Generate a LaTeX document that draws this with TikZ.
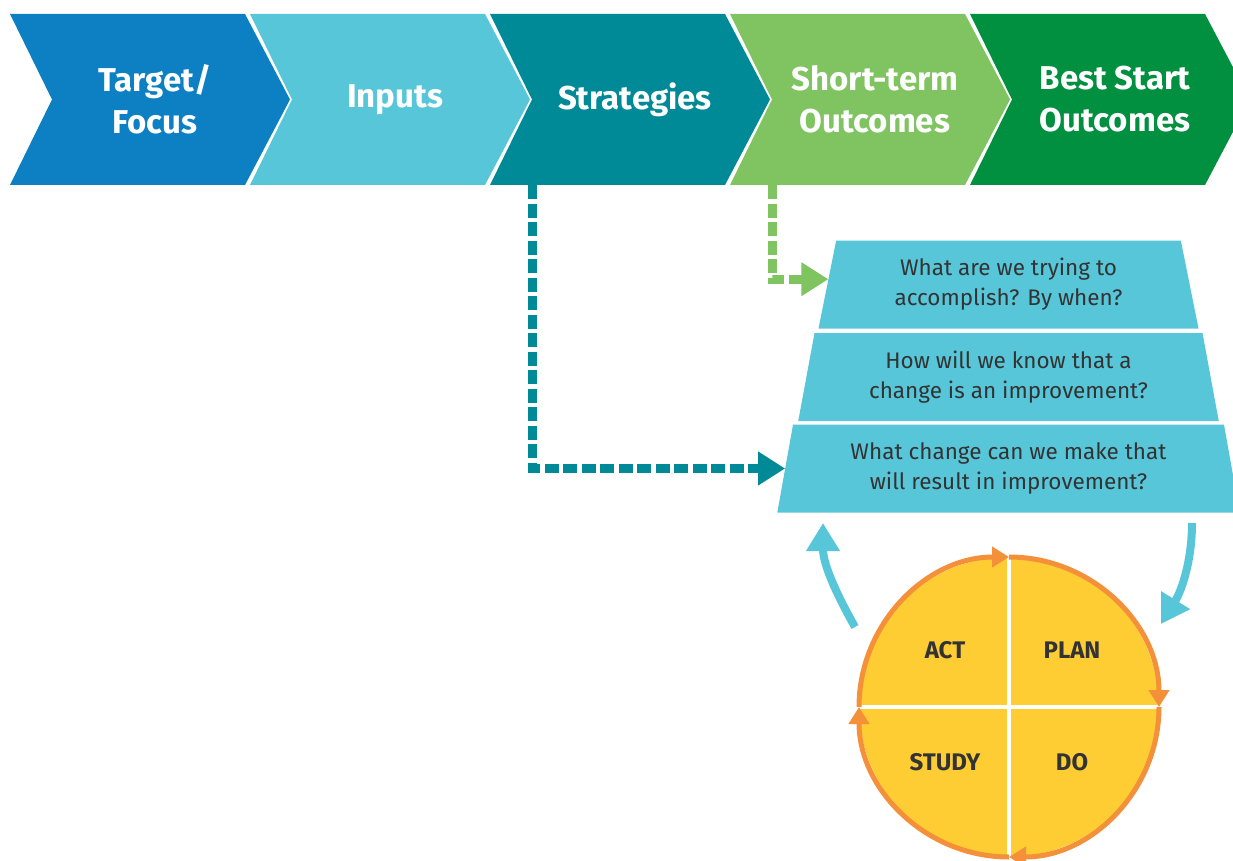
\documentclass[tikz,border=0pt]{standalone}
\usepackage{fontspec}
\setmainfont{Fira Sans}
\usetikzlibrary{arrows.meta,shapes.geometric,calc}

\definecolor{focusblue}{HTML}{0D80C4}
\definecolor{inputblue}{HTML}{57C6D9}
\definecolor{stratteal}{HTML}{008A97}
\definecolor{shortgreen}{HTML}{7FC461}
\definecolor{bestgreen}{HTML}{00903F}
\definecolor{pdsayellow}{HTML}{FECC33}
\definecolor{pdsaorange}{HTML}{F4903A}
\definecolor{inktext}{HTML}{333333}

\tikzset{
	chevtext/.style={text=white, align=center, font=\bfseries\fontsize{33}{42}\selectfont},
	askbox/.style={trapezium, trapezium left angle=77.4, trapezium right angle=77.4,
		trapezium stretches=true, minimum height=88pt, inner sep=0pt, outer sep=0pt,
		fill=inputblue, text=inktext, align=center, font=\fontsize{22.5}{30}\selectfont},
	dashlink/.style={line width=9pt, dash pattern=on 14pt off 4.5pt, -{Triangle[length=27pt,width=32pt]}},
	quarter/.style={pdsaorange, line width=5pt, -{Triangle[length=17pt,width=20pt]}},
	cyclearrow/.style={inputblue, line width=8pt, -{Triangle[length=28pt,width=32pt]}},
	stagetext/.style={text=inktext, font=\bfseries\fontsize{24}{28}\selectfont},
}

\begin{document}
\begin{tikzpicture}[x=1pt,y=-1pt]
	\useasboundingbox (0,0) rectangle (1233,861);
	\clip (0,0) rectangle (1233,861);
	% chevrons
	\foreach \i/\col/\name/\txt in {0/focusblue/focus/{Target/\\Focus}, 1/inputblue/inputs/Inputs, 2/stratteal/strat/Strategies, 3/shortgreen/short/{Short-term\\Outcomes}, 4/bestgreen/best/{Best Start\\Outcomes}}{
		\fill[\col] (10+240*\i,14) -- ++(235,0) -- ++(45,85.5) -- ++(-45,85.5) -- ++(-235,0) -- ++(42,-85.5) -- cycle;
		\coordinate (\name-foot) at (52+240*\i,185);
		\node[chevtext] (\name) at (155+240*\i,99.5) {\txt};
	}
	% questions
	\node[askbox, minimum width=381pt] (q1) at (1008.5,284.5) {What are we trying to\\accomplish? By when?};
	\node[askbox, minimum width=422pt] (q2) at (1008.5,377) {How will we know that a\\change is an improvement?};
	\node[askbox, minimum width=463pt] (q3) at (1008.5,468.5) {What change can we make that\\will result in improvement?};
	\coordinate (q1-in) at ($(q1.top left corner)!0.44!(q1.bottom left corner)$);
	\draw[dashlink, stratteal] (strat-foot) |- (q3.west);
	\draw[dashlink, shortgreen] (short-foot) |- (q1-in);
	% PDSA cycle
	\node[circle, fill=pdsayellow, minimum size=300pt, inner sep=0pt, outer sep=0pt] (pdsa) at (1009,707) {};
	\draw[white, line width=4pt] (pdsa.west) -- (pdsa.east) (pdsa.north) -- (pdsa.south);
	\foreach \a/\p in {180/west, 270/north, 0/east, 90/south}
		\draw[quarter] (pdsa.\p) arc (\a:\a+90:150);
	\node[stagetext] (act) at (945,650) {ACT};
	\node[stagetext] (plan) at (1072,650) {PLAN};
	\node[stagetext] (study) at (945,762) {STUDY};
	\node[stagetext] (do) at (1072,762) {DO};
	\coordinate (act-out) at (855,627);
	\coordinate (ask-in) at (823,523);
	\coordinate (ask-out) at (1192,523);
	\coordinate (plan-in) at (1161,624);
	\draw[cyclearrow] (act-out) .. controls (838,597) and (823,565) .. (ask-in);
	\draw[cyclearrow] (ask-out) .. controls (1192,560) and (1182,590) .. (plan-in);
\end{tikzpicture}
\end{document}
